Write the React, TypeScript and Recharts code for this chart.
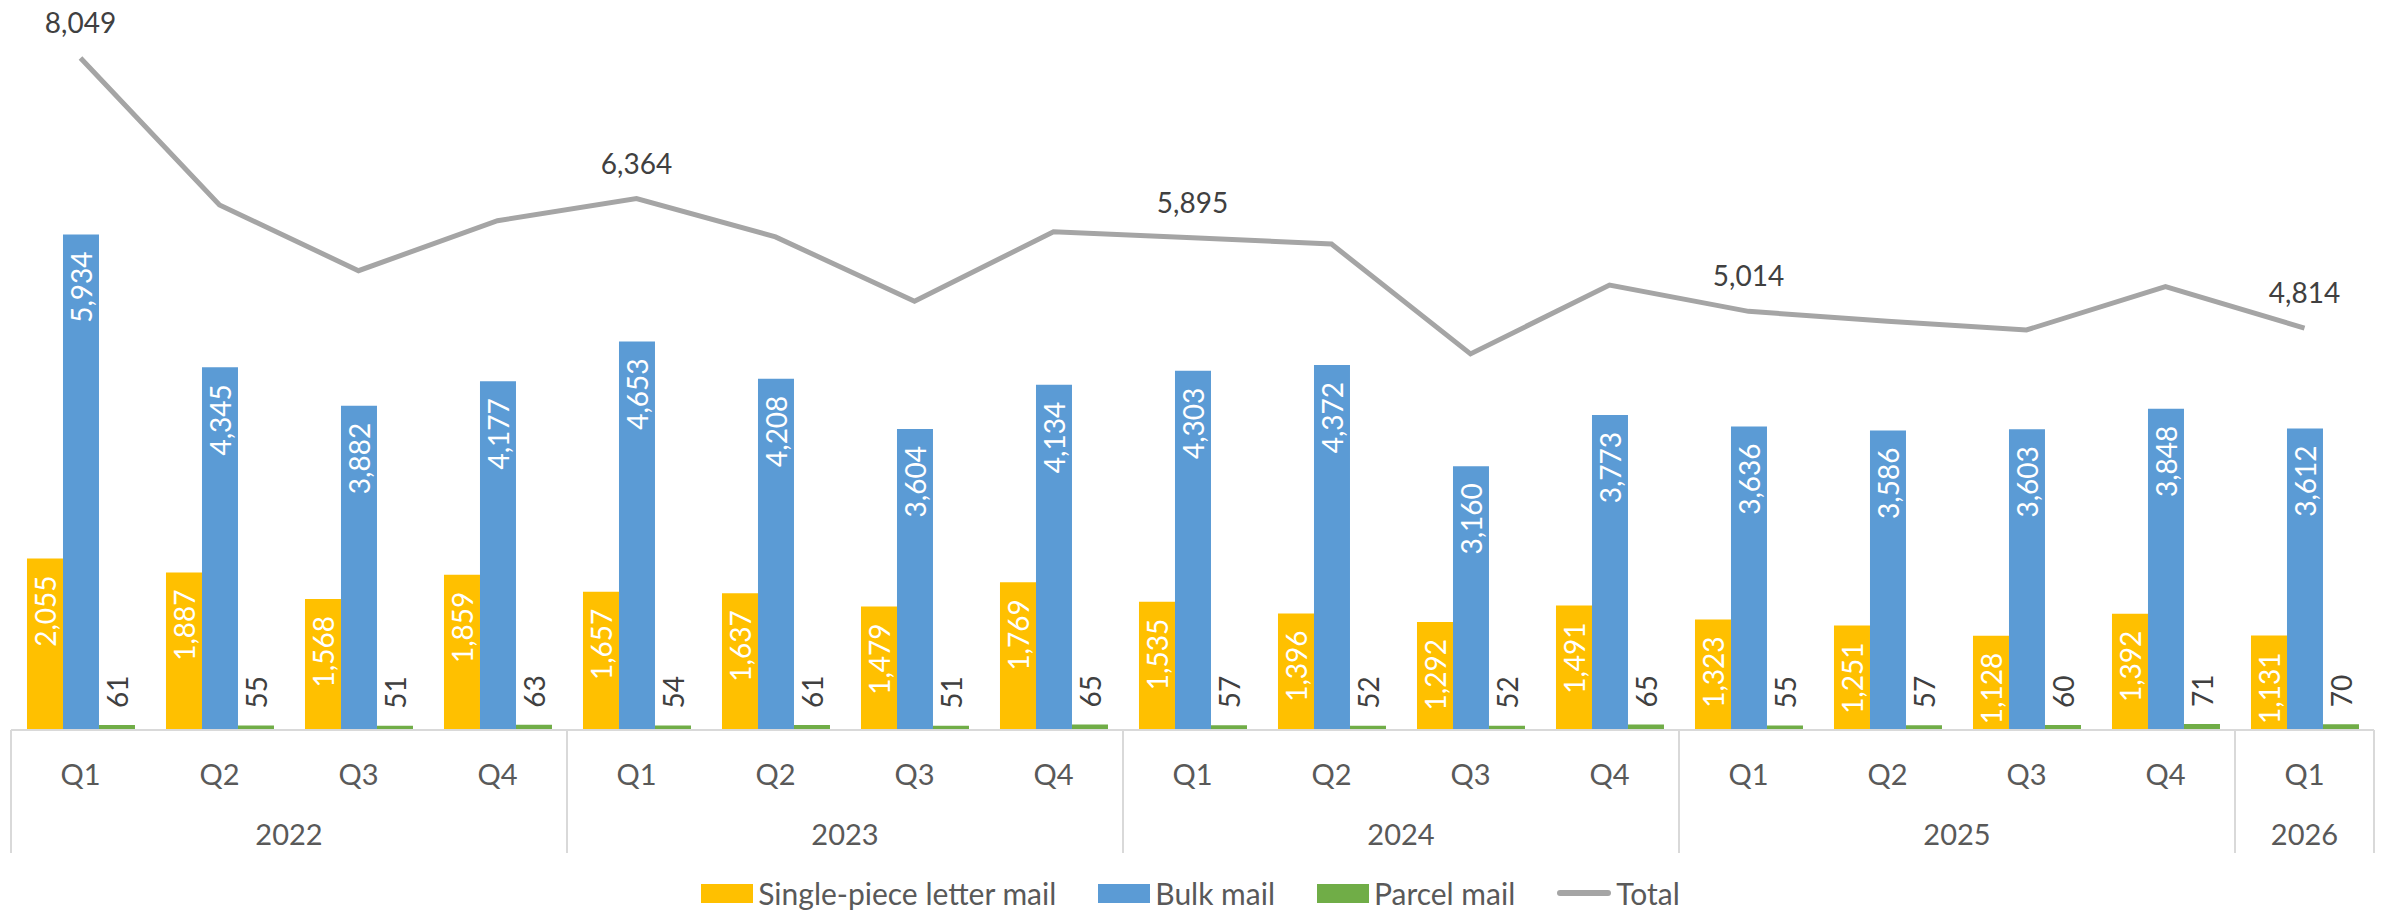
import {ComposedChart, Bar, Line, XAxis, YAxis, Legend, LabelList} from 'recharts';

const quarters = ['Q1', 'Q2', 'Q3', 'Q4', 'Q1', 'Q2', 'Q3', 'Q4', 'Q1', 'Q2', 'Q3', 'Q4', 'Q1', 'Q2', 'Q3', 'Q4', 'Q1'];
const years = ['2022', '2022', '2022', '2022', '2023', '2023', '2023', '2023', '2024', '2024', '2024', '2024', '2025', '2025', '2025', '2025', '2026'];
const singlePiece = [2055, 1887, 1568, 1859, 1657, 1637, 1479, 1769, 1535, 1396, 1292, 1491, 1323, 1251, 1128, 1392, 1131];
const bulk = [5934, 4345, 3882, 4177, 4653, 4208, 3604, 4134, 4303, 4372, 3160, 3773, 3636, 3586, 3603, 3848, 3612];
const parcel = [61, 55, 51, 63, 54, 61, 51, 65, 57, 52, 52, 65, 55, 57, 60, 71, 70];
const total = [8049, 6287, 5501, 6099, 6364, 5906, 5134, 5968, 5895, 5820, 4504, 5329, 5014, 4894, 4791, 5311, 4814];

const seriesNames = ['Single-piece letter mail', 'Bulk mail', 'Parcel mail', 'Total'];
const colors = ['#FFC000', '#5B9BD5', '#70AD47', '#A5A5A5'];

const data = quarters.map((q, i) => ({
    quarter: q,
    year: years[i],
    single: singlePiece[i],
    bulk: bulk[i],
    parcel: parcel[i],
    total: total[i],
}));

const W = 2381;
const H = 911;
const LEFT = 11;
const RIGHT = 7;
const STEP = (W - LEFT - RIGHT) / quarters.length;
const FONT = 'Lato, "Open Sans", sans-serif';
const FS = 28;
const Q_AXIS_H = 70;

const fmt = (v: number) => v.toLocaleString('en-US');

const QuarterTick = (props: any) => {
    const {x, y, payload} = props;
    return (
        <text x={x} y={y + 43} textAnchor="middle" dominantBaseline="central"
              fill="#595959" fontSize={FS + 1} fontFamily={FONT}>
            {payload.value}
        </text>
    );
};

const YearTick = (props: any) => {
    const {x, y, index} = props;
    const yr = years[index];
    const first = years.indexOf(yr);
    const last = years.lastIndexOf(yr);
    const half = STEP / 2;
    return (
        <g>
            {index === first && (
                <line x1={x - half} x2={x - half} y1={y - Q_AXIS_H} y2={y + 53} stroke="#D9D9D9" strokeWidth={2}/>
            )}
            {index === quarters.length - 1 && (
                <line x1={x + half} x2={x + half} y1={y - Q_AXIS_H} y2={y + 53} stroke="#D9D9D9" strokeWidth={2}/>
            )}
            {index === first && (
                <text x={x + (last - first) * half} y={y + 33} textAnchor="middle" dominantBaseline="central"
                      fill="#595959" fontSize={FS + 1} fontFamily={FONT}>
                    {yr}
                </text>
            )}
        </g>
    );
};

const insideLabel = (props: any) => {
    const {x, y, width, value} = props;
    const cx = x + width / 2;
    const ty = y + 17;
    return (
        <text x={cx} y={ty} transform={`rotate(-90 ${cx} ${ty})`} textAnchor="end" dominantBaseline="central"
              fill="#FFFFFF" fontSize={FS} fontFamily={FONT}>
            {fmt(value)}
        </text>
    );
};

const outsideLabel = (props: any) => {
    const {x, y, width, value} = props;
    const cx = x + width / 2;
    const ty = y - 17;
    return (
        <text x={cx} y={ty} transform={`rotate(-90 ${cx} ${ty})`} textAnchor="start" dominantBaseline="central"
              fill="#404040" fontSize={FS} fontFamily={FONT}>
            {fmt(value)}
        </text>
    );
};

const totalLabel = (props: any) => {
    const {x, y, value, index} = props;
    if (index % 4 !== 0) return null;
    return (
        <text x={x} y={y - 36} textAnchor="middle" dominantBaseline="central"
              fill="#404040" fontSize={FS} fontFamily={FONT}>
            {fmt(value)}
        </text>
    );
};

const renderLegend = () => (
    <div style={{
        display: 'flex', justifyContent: 'center', alignItems: 'center', height: 53, paddingTop: 17,
        boxSizing: 'border-box', fontFamily: FONT, fontSize: 30, color: '#595959', gap: 42,
    }}>
        {seriesNames.map((name, i) => (
            <div key={name} style={{display: 'flex', alignItems: 'center'}}>
                {i < 3
                    ? <span style={{display: 'inline-block', width: 52, height: 19, background: colors[i], marginRight: 5}}/>
                    : <span style={{display: 'inline-block', width: 54, height: 6, borderRadius: 3, background: colors[i], marginRight: 5}}/>}
                <span>{name}</span>
            </div>
        ))}
    </div>
);

export default function App() {
    return (
        <div style={{position: 'absolute', left: 0, top: 0, background: '#fff'}}>
            <ComposedChart width={W} height={H} data={data}
                           margin={{top: 10, right: RIGHT, left: LEFT, bottom: 0}}
                           barCategoryGap="11.5%" barGap={0}>
                <XAxis dataKey="quarter" interval={0} height={Q_AXIS_H} tickLine={false} tickSize={0} tickMargin={0}
                       axisLine={{stroke: '#D9D9D9', strokeWidth: 2}} tick={QuarterTick}/>
                <XAxis dataKey="year" xAxisId="year" interval={0} height={58} tickLine={false} tickSize={0}
                       tickMargin={0} axisLine={false} tick={YearTick}/>
                <YAxis hide domain={[0, 8623]}/>
                <Legend verticalAlign="bottom" height={53} content={renderLegend}
                        wrapperStyle={{left: 0, width: W, bottom: 0}}/>
                <Bar dataKey="single" name={seriesNames[0]} fill={colors[0]} isAnimationActive={false}>
                    <LabelList dataKey="single" content={insideLabel}/>
                </Bar>
                <Bar dataKey="bulk" name={seriesNames[1]} fill={colors[1]} isAnimationActive={false}>
                    <LabelList dataKey="bulk" content={insideLabel}/>
                </Bar>
                <Bar dataKey="parcel" name={seriesNames[2]} fill={colors[2]} isAnimationActive={false}>
                    <LabelList dataKey="parcel" content={outsideLabel}/>
                </Bar>
                <Line dataKey="total" name={seriesNames[3]} stroke={colors[3]} strokeWidth={5} dot={false}
                      type="linear" isAnimationActive={false}>
                    <LabelList dataKey="total" content={totalLabel}/>
                </Line>
            </ComposedChart>
        </div>
    );
}
